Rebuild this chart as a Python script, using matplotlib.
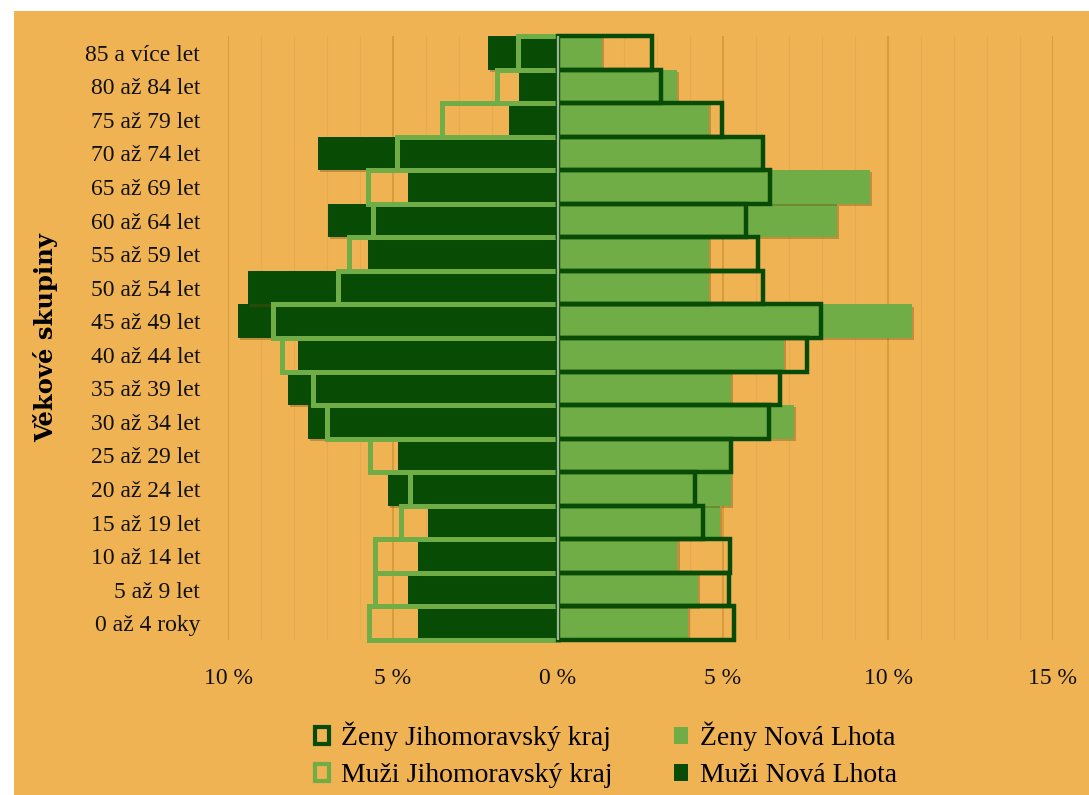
import numpy as np
import matplotlib
matplotlib.use("Agg")
from matplotlib import pyplot as plt, patheffects as pe
from matplotlib.patches import Patch, Rectangle

ages = ["0 až 4 roky", "5 až 9 let", "10 až 14 let", "15 až 19 let", "20 až 24 let",
        "25 až 29 let", "30 až 34 let", "35 až 39 let", "40 až 44 let", "45 až 49 let",
        "50 až 54 let", "55 až 59 let", "60 až 64 let", "65 až 69 let", "70 až 74 let",
        "75 až 79 let", "80 až 84 let", "85 a více let"]

# shares in % (youngest -> oldest)
muzi_nl = [4.24, 4.54, 4.24, 3.94, 5.15, 4.84, 7.58, 8.19, 7.89, 9.70,
           9.40, 5.75, 6.98, 4.54, 7.28, 1.50, 1.19, 2.11]
muzi_jmk = [5.74, 5.56, 5.56, 4.77, 4.50, 5.70, 6.99, 7.43, 8.35, 8.65,
            6.68, 6.32, 5.60, 5.75, 4.89, 3.51, 1.84, 1.20]
zeny_nl = [3.94, 4.25, 3.62, 4.90, 5.23, 5.20, 7.16, 5.23, 6.84, 10.72,
           4.57, 4.57, 8.45, 9.44, 6.15, 4.57, 3.60, 1.33]
zeny_jmk = [5.34, 5.17, 5.21, 4.40, 4.16, 5.24, 6.39, 6.72, 7.56, 7.97,
            6.20, 6.07, 5.70, 6.41, 6.20, 4.96, 3.13, 2.84]

xticks = [-10, -5, 0, 5, 10, 15]
xticklabels = ["10 %", "5 %", "0 %", "5 %", "10 %", "15 %"]

ORANGE = "#F0B354"
DARK = "#074B05"
LIGHT = "#70AD47"

plt.rcParams["font.family"] = ["Liberation Serif", "DejaVu Serif"]
plt.rcParams["font.size"] = 17

fig = plt.figure(figsize=(10.89, 7.95), dpi=100, facecolor="white")
fig.patches.append(Rectangle((14 / 1089, 0), 1, 1 - 11 / 795, transform=fig.transFigure,
                             facecolor=ORANGE, edgecolor="none", zorder=-10))
ax = fig.add_axes([228 / 1089, 1 - 640 / 795, (1053 - 228) / 1089, (640 - 36) / 795])
ax.set_facecolor(ORANGE)

y = np.arange(len(ages))
shadow = [pe.SimplePatchShadow(offset=(1.5, -1.5), shadow_rgbFace="#6b4a10", alpha=0.35), pe.Normal()]

ax.barh(y, -np.array(muzi_nl), height=1.0, color=DARK, zorder=3, path_effects=shadow)
ax.barh(y, zeny_nl, height=1.0, color=LIGHT, zorder=3, path_effects=shadow)
ax.barh(y, -np.array(muzi_jmk), height=1.0, facecolor="none", edgecolor=LIGHT,
        linewidth=3.6, zorder=4, clip_on=False)
ax.barh(y, zeny_jmk, height=1.0, facecolor="none", edgecolor=DARK,
        linewidth=3.2, zorder=4, clip_on=False)
ax.axvline(0, color="#9db596", lw=1.6, zorder=5)

ax.set_xlim(-10, 15)
ax.set_ylim(-0.5, len(ages) - 0.5)

ax.set_xticks(xticks)
ax.set_xticklabels(xticklabels)
ax.set_xticks(np.arange(-10, 16, 1), minor=True)
ax.grid(axis="x", which="major", color="#D39B3C", lw=1.3, zorder=1)
ax.grid(axis="x", which="minor", color="#E6AB4E", lw=0.9, zorder=1)
ax.set_axisbelow(True)
ax.set_yticks(y)
ax.set_yticklabels(ages)
ax.tick_params(axis="both", which="both", length=0, colors="#111111")
ax.tick_params(axis="y", pad=20)
ax.tick_params(axis="x", pad=20)
for s in ax.spines.values():
    s.set_visible(False)

ax.set_ylabel("Věkové skupiny", fontsize=17.5, fontweight="bold",
              family=["DejaVu Serif"], labelpad=20)

handles = [
    Patch(facecolor="none", edgecolor=DARK, linewidth=3, label="Ženy Jihomoravský kraj"),
    Patch(facecolor="none", edgecolor=LIGHT, linewidth=3, label="Muži Jihomoravský kraj"),
    Patch(facecolor=LIGHT, edgecolor="none", label="Ženy Nová Lhota"),
    Patch(facecolor=DARK, edgecolor="none", label="Muži Nová Lhota"),
]
fig.legend(handles=handles, loc="center", bbox_to_anchor=(606 / 1089, 1 - 755 / 795),
           ncol=2, frameon=False, fontsize=20, handlelength=0.5, handleheight=0.55,
           handletextpad=0.45, columnspacing=2.2, labelspacing=0.42)

fig.savefig("out.png", dpi=100, facecolor="white")
